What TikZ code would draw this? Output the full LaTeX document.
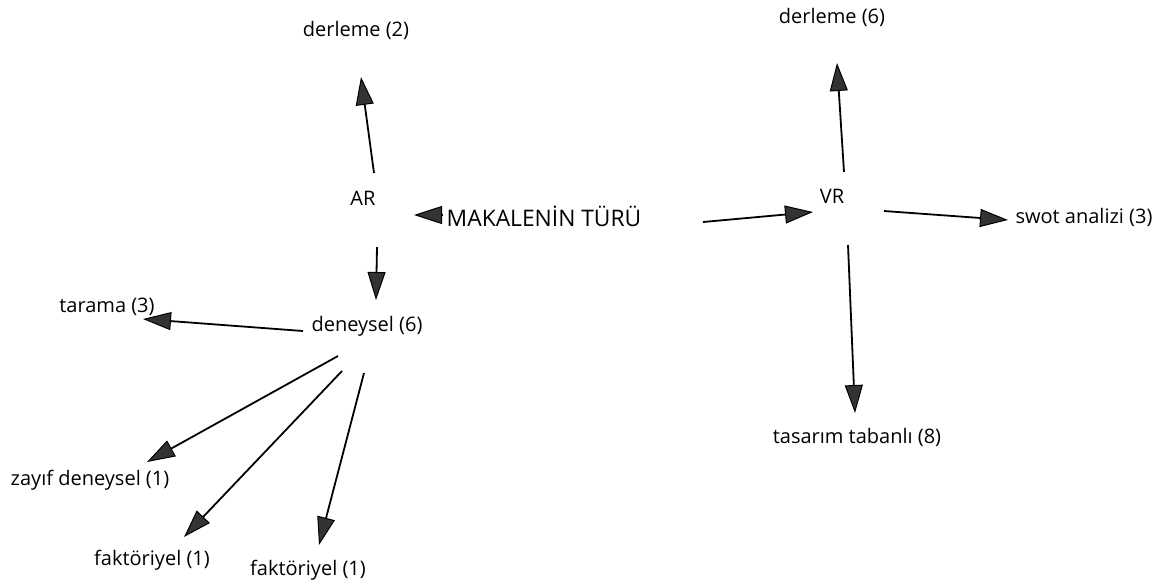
\documentclass[tikz,border=0pt]{standalone}
\usepackage{fontspec}
\setmainfont{Open Sans}
\usetikzlibrary{arrows.meta}
\begin{document}
\begin{tikzpicture}[x=1pt,y=-1pt,
  lbl/.style={anchor=base,inner sep=0pt,font=\fontsize{20}{22}\selectfont},
  root/.style={anchor=base,inner sep=0pt,font=\fontsize{22.8}{25}\selectfont},
  arr/.style={line width=1.8pt,draw=black,
    -{Triangle[length=28pt,width=18pt,fill=black!80,line width=1pt]}}]
\useasboundingbox (0,0) rectangle (1165,582);
\fill[white] (0,0) rectangle (1165,582);

% nodes, placed at their baselines
\node[root] (mt)   at (544,226) {MAKALENİN TÜRÜ};
\node[lbl]  (ar)   at (363,205) {AR};
\node[lbl]  (vr)   at (832,203) {VR};
\node[lbl]  (d2)   at (356,36)  {derleme (2)};
\node[lbl]  (d6)   at (832,23)  {derleme (6)};
\node[lbl]  (swot) at (1084,223) {swot analizi (3)};
\node[lbl]  (tas)  at (857,443) {tasarım tabanlı (8)};
\node[lbl]  (den)  at (367,331) {deneysel (6)};
\node[lbl]  (tar)  at (107,312) {tarama (3)};
\node[lbl]  (zay)  at (90,485)  {zayıf deneysel (1)};
\node[lbl]  (f1)   at (152,565) {faktöriyel (1)};
\node[lbl]  (f2)   at (308,575) {faktöriyel (1)};

% connectors
\draw[arr] ([shift={(-101,-11)}]mt.base) -- ([shift={(51,10)}]ar.base);
\draw[arr] ([shift={(159,-4)}]mt.base)  -- ([shift={(-19,9)}]vr.base);
\draw[arr] ([shift={(11,-32)}]ar.base)  -- ([shift={(5,41)}]d2.base);
\draw[arr] ([shift={(14,42)}]ar.base)   -- ([shift={(9,-31)}]den.base);
\draw[arr] ([shift={(12,-31)}]vr.base)  -- ([shift={(5,40)}]d6.base);
\draw[arr] ([shift={(52,8)}]vr.base)    -- ([shift={(-76,-3)}]swot.base);
\draw[arr] ([shift={(16,42)}]vr.base)   -- ([shift={(-2,-30)}]tas.base);
\draw[arr] ([shift={(-64,0)}]den.base)  -- ([shift={(36,7)}]tar.base);
\draw[arr] ([shift={(-29,25)}]den.base) -- ([shift={(57,-23)}]zay.base);
\draw[arr] ([shift={(-25,40)}]den.base) -- ([shift={(32,-28)}]f1.base);
\draw[arr] ([shift={(-3,42)}]den.base)  -- ([shift={(11,-30)}]f2.base);
\end{tikzpicture}
\end{document}
